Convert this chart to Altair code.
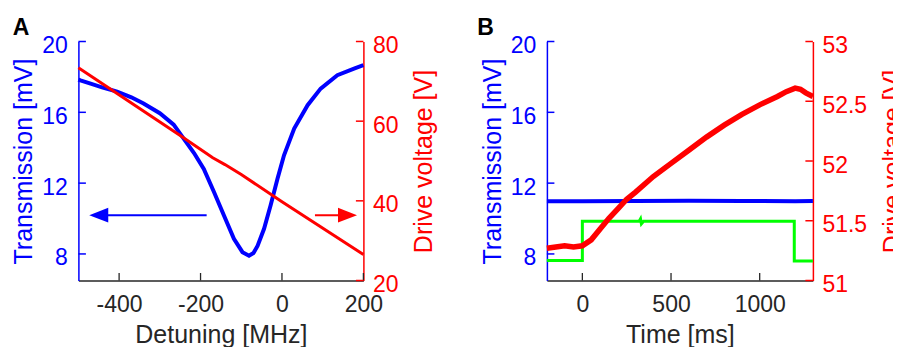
import altair as alt
import pandas as pd

# ---------------- Panel A data ----------------
detuning = [-500, -495, -470, -440, -405, -370, -340, -300, -266, -241, -216, -192,
            -167, -143, -118, -97, -81, -70, -60, -44, -28, -11, 5, 30, 63, 95, 136, 177, 200]
transmission_a = [17.85, 17.8, 17.62, 17.4, 17.17, 16.85, 16.5, 15.95, 15.3, 14.5, 13.7, 12.8,
                  11.5, 10.2, 8.86, 8.1, 7.9, 8.05, 8.45, 9.42, 10.74, 12.25, 13.57, 15.08,
                  16.4, 17.34, 18.1, 18.47, 18.66]
drive_a_x = [-500, -250, -170, -140, -100, 0, 200]
drive_a_v = [73.4, 56.4, 50.8, 49.1, 46.6, 39.8, 26.5]

# arrows (data coordinates)
blue_arrow_x = [-450, -185]
blue_arrow_y = 10.19
red_arrow_x = [81, 161]
red_arrow_y = 36.4

# ---------------- Panel B data ----------------
time_blue = [-200, 0, 300, 600, 900, 1200, 1300]
trans_blue = [10.98, 10.97, 10.99, 11.0, 10.99, 10.98, 10.99]
time_green = [-200, 0, 0, 320, 328, 333, 345, 1195, 1195, 1300]
trans_green = [7.63, 7.63, 9.84, 9.84, 9.98, 9.7, 9.84, 9.84, 7.6, 7.6]
time_red = [-200, -150, -100, -50, 0, 50, 100, 150, 200, 250, 300, 400, 500, 600,
            700, 800, 900, 1000, 1100, 1150, 1200, 1230, 1260, 1300]
drive_b = [51.27, 51.28, 51.29, 51.28, 51.29, 51.34, 51.43, 51.52, 51.6, 51.68, 51.74,
           51.87, 51.98, 52.09, 52.2, 52.3, 52.39, 52.47, 52.54, 52.58, 52.61, 52.6, 52.57, 52.54]

# axis ticks
xticks_a = [-400, -200, 0, 200]
xticks_b = [0, 500, 1000]
left_ticks = [8, 12, 16, 20]
right_ticks_a = [20, 40, 60, 80]
right_ticks_b = [51, 51.5, 52, 52.5, 53]

BLUE = "#0000FF"
RED = "#FF0000"
GREEN = "#00FF00"
DARK = "#262626"
FONT = "Liberation Sans"
TICK_LEN = 7.5

LEFT_SHAPE = "M-1,0L1,-0.77L1,0.77Z"
RIGHT_SHAPE = "M1,0L-1,-0.77L-1,0.77Z"


def x_axis(values, title):
    return alt.Axis(values=values, title=title, labelExpr="toString(datum.value)",
                    labelFont=FONT, labelFontSize=23, labelColor=DARK, labelPadding=13,
                    labelFlush=False, labelOverlap=False,
                    titleFont=FONT, titleFontSize=25, titleFontWeight="normal",
                    titleColor=DARK, titlePadding=6, ticks=False, tickSize=0,
                    grid=False, domainColor=DARK, domainWidth=1.3)


def y_axis(values, title, orient, color):
    if orient == "right":
        kw = dict(titleAngle=270, titleBaseline="top", titlePadding=13.5, labelPadding=9)
    else:
        kw = dict(titlePadding=5, labelPadding=11)
    return alt.Axis(values=values, title=title, orient=orient,
                    labelExpr="toString(datum.value)",
                    labelFont=FONT, labelFontSize=23, labelColor=color, labelOffset=4,
                    titleFont=FONT, titleFontSize=25, titleFontWeight="normal",
                    titleColor=color, ticks=False, tickSize=0, grid=False,
                    domainColor=color, domainWidth=1.5, **kw)


def panel(W, H, xdom, xticks, xtitle, left_layers, right_layers, rdom, rticks, label, dx):
    xs = alt.Scale(domain=xdom, nice=False, zero=False)
    xa = x_axis(xticks, xtitle)
    ls = alt.Scale(domain=[6.5, 20], nice=False, zero=False)
    la = y_axis(left_ticks, "Transmission [mV]", "left", BLUE)
    rs = alt.Scale(domain=rdom, nice=False, zero=False)
    ra = y_axis(rticks, "Drive voltage [V]", "right", RED)

    lefts = [spec(xs, xa, ls, la) for spec in left_layers]
    bottom_ticks = alt.Chart(pd.DataFrame({"t": xticks})).mark_rule(
        color=DARK, strokeWidth=1.3).encode(
        x=alt.X("t:Q", scale=xs, axis=xa), y=alt.value(H), y2=alt.value(H - TICK_LEN))
    lt = alt.Chart(pd.DataFrame({"t": left_ticks})).mark_rule(
        color=BLUE, strokeWidth=1.5).encode(
        y=alt.Y("t:Q", scale=ls, axis=la), x=alt.value(0), x2=alt.value(TICK_LEN))
    left_group = alt.layer(*lefts, bottom_ticks, lt)

    rights = [spec(xs, xa, rs, ra) for spec in right_layers]
    rt = alt.Chart(pd.DataFrame({"t": rticks})).mark_rule(
        color=RED, strokeWidth=1.5).encode(
        y=alt.Y("t:Q", scale=rs, axis=ra), x=alt.value(W), x2=alt.value(W - TICK_LEN))
    right_group = alt.layer(*rights, rt)

    return alt.layer(left_group, right_group).resolve_scale(y="independent").properties(
        width=W, height=H,
        title=alt.TitleParams(label, anchor="start", frame="bounds", fontSize=23,
                              fontWeight="bold", color="black", font=FONT,
                              baseline="bottom", offset=-28, dx=dx))


# ---- layer builders for panel A ----
def a_blue(xs, xa, ys, ya):
    df = pd.DataFrame({"x": detuning, "y": transmission_a})
    return alt.Chart(df).mark_line(color=BLUE, strokeWidth=4).encode(
        x=alt.X("x:Q", scale=xs, axis=xa), y=alt.Y("y:Q", scale=ys, axis=ya))


def a_blue_arrow(xs, xa, ys, ya):
    df = pd.DataFrame({"x": blue_arrow_x, "y": [blue_arrow_y] * 2})
    line = alt.Chart(df).mark_line(color=BLUE, strokeWidth=2).encode(
        x=alt.X("x:Q", scale=xs, axis=xa), y=alt.Y("y:Q", scale=ys, axis=ya))
    head = alt.Chart(df.iloc[[0]]).mark_point(
        shape=LEFT_SHAPE, filled=True, size=361, color=BLUE, opacity=1, strokeWidth=0).encode(
        x=alt.X("x:Q", scale=xs, axis=xa), y=alt.Y("y:Q", scale=ys, axis=ya))
    return alt.layer(line, head)


def a_red(xs, xa, ys, ya):
    df = pd.DataFrame({"x": drive_a_x, "y": drive_a_v})
    return alt.Chart(df).mark_line(color=RED, strokeWidth=3).encode(
        x=alt.X("x:Q", scale=xs, axis=xa), y=alt.Y("y:Q", scale=ys, axis=ya))


def a_red_arrow(xs, xa, ys, ya):
    df = pd.DataFrame({"x": red_arrow_x, "y": [red_arrow_y] * 2})
    line = alt.Chart(df).mark_line(color=RED, strokeWidth=2).encode(
        x=alt.X("x:Q", scale=xs, axis=xa), y=alt.Y("y:Q", scale=ys, axis=ya))
    head = alt.Chart(df.iloc[[1]]).mark_point(
        shape=RIGHT_SHAPE, filled=True, size=361, color=RED, opacity=1, strokeWidth=0).encode(
        x=alt.X("x:Q", scale=xs, axis=xa), y=alt.Y("y:Q", scale=ys, axis=ya))
    return alt.layer(line, head)


# ---- layer builders for panel B ----
def b_blue(xs, xa, ys, ya):
    df = pd.DataFrame({"x": time_blue, "y": trans_blue})
    return alt.Chart(df).mark_line(color=BLUE, strokeWidth=4).encode(
        x=alt.X("x:Q", scale=xs, axis=xa), y=alt.Y("y:Q", scale=ys, axis=ya))


def b_green(xs, xa, ys, ya):
    df = pd.DataFrame({"x": time_green, "y": trans_green, "i": list(range(len(time_green)))})
    return alt.Chart(df).mark_line(color=GREEN, strokeWidth=3).encode(
        x=alt.X("x:Q", scale=xs, axis=xa), y=alt.Y("y:Q", scale=ys, axis=ya),
        order=alt.Order("i:Q"))


def b_red(xs, xa, ys, ya):
    df = pd.DataFrame({"x": time_red, "y": drive_b})
    return alt.Chart(df).mark_line(color=RED, strokeWidth=5.5).encode(
        x=alt.X("x:Q", scale=xs, axis=xa), y=alt.Y("y:Q", scale=ys, axis=ya))


chart_a = panel(285, 239, [-500, 200], xticks_a, "Detuning [MHz]",
                [a_blue, a_blue_arrow], [a_red, a_red_arrow], [20, 80], right_ticks_a, "A", 1)
chart_b = panel(266, 239, [-200, 1300], xticks_b, "Time [ms]",
                [b_blue, b_green], [b_red], [51, 53], right_ticks_b, "B", -3)

chart = alt.hconcat(chart_a, chart_b, spacing=39.5).properties(
    padding={"left": 3.4, "top": 8.5, "right": -12.5, "bottom": 0},
    background="white"
).configure_view(stroke=None)

chart.save("out.html", embed_options={"renderer": "svg", "actions": False})
